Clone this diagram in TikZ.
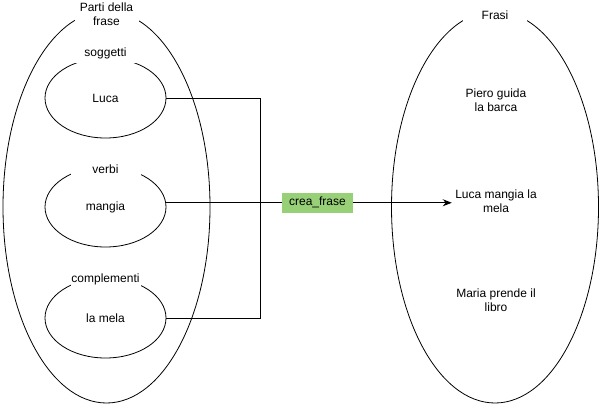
\documentclass[tikz,border=0pt]{standalone}
\usepackage{fontspec}
\setmainfont{Liberation Sans}
\usetikzlibrary{shapes.geometric,arrows.meta}
\definecolor{fngreen}{HTML}{97D077}

\begin{document}
\begin{tikzpicture}[x=1pt,y=-1pt,
                  every node/.style={font=\fontsize{12pt}{14pt}\selectfont},
                  bigset/.style={draw,ellipse,line width=0.8pt,minimum width=207pt,minimum height=392pt,inner sep=0pt},
                  smallset/.style={draw,ellipse,line width=0.8pt,minimum width=121pt,minimum height=80pt,inner sep=0pt},
                  tag/.style={fill=white,inner sep=0pt,minimum width=70pt,minimum height=20pt,align=center},
                  fn/.style={fill=fngreen,inner sep=0pt,minimum width=71pt,minimum height=20pt}]

                  \useasboundingbox (0,0) rectangle (601,404);

                  \node[bigset] (parts) at (106.5,207) {};
                  \node[bigset] (frasi) at (495,207) {};

                  \node[smallset] (luca) at (105.5,98) {Luca};
                  \node[smallset] (mangia) at (105.5,207) {mangia};
                  \node[smallset] (mela) at (105.5,318) {la mela};

                  \node[tag,minimum width=64pt,minimum height=30pt] (partstag) at (106.5,14) {Parti della\\frase};
                  \node[tag,minimum width=64pt] (frasitag) at (495,15) {Frasi};
                  \node[tag] (soggtag) at (105.5,53) {soggetti};
                  \node[tag] (verbtag) at (105.5,169) {verbi};
                  \node[tag] (compltag) at (105.5,279) {complementi};

                  \node[align=center] (s1) at (496,100) {Piero guida\\la barca};
                  \node[align=center] (s2) at (496,201) {Luca mangia la\\mela};
                  \node[align=center] (s3) at (496,300) {Maria prende il\\libro};

                  \coordinate (vline) at (260,0);
                  \coordinate (join) at (mangia.4 -| vline);

                  \draw[line width=1pt] (luca.east) -| (join);
                  \draw[line width=1pt] (mela.east) -| (join);
                  \draw[-{Stealth[length=9pt,width=7pt]},line width=1pt] (mangia.4) -- node[fn,pos=0.53] (fname) {crea\_frase} (mangia.4 -| s2.west);

              \end{tikzpicture}
\end{document}
